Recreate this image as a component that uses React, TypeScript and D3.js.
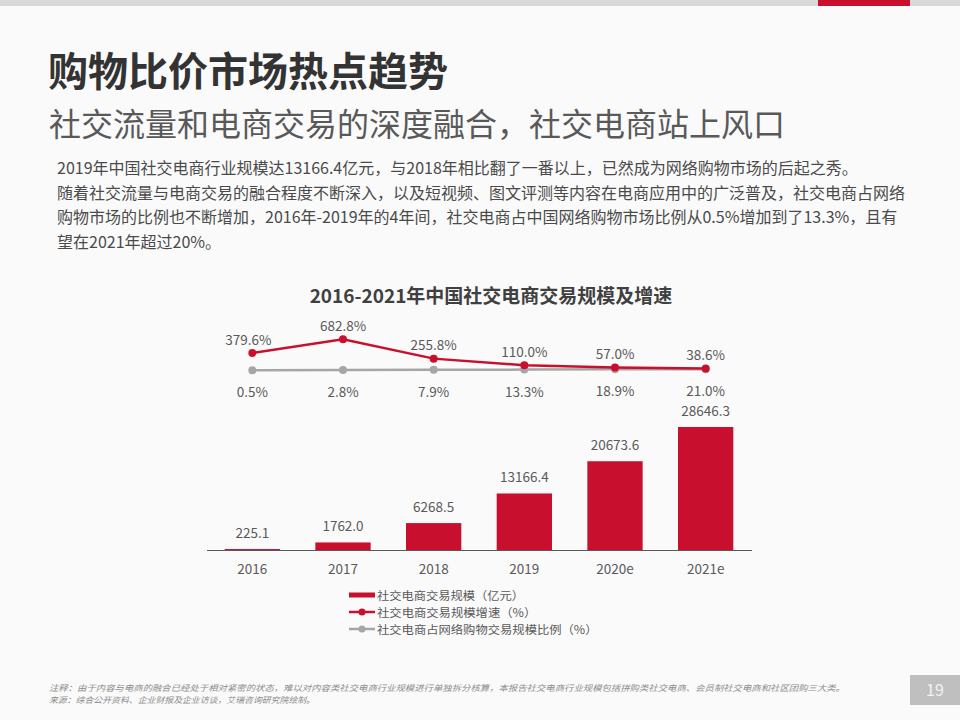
import React from "react";
import * as d3 from "d3";

const categories = ["2016", "2017", "2018", "2019", "2020e", "2021e"];
const scaleValues = [225.1, 1762.0, 6268.5, 13166.4, 20673.6, 28646.3];
const growthRates = [379.6, 682.8, 255.8, 110.0, 57.0, 38.6];
const shareRates = [0.5, 2.8, 7.9, 13.3, 18.9, 21.0];
const legendLabels = [
  "社交电商交易规模（亿元）",
  "社交电商交易规模增速（%）",
  "社交电商占网络购物交易规模比例（%）",
];
const bodyLines = [
  "2019年中国社交电商行业规模达13166.4亿元，与2018年相比翻了一番以上，已然成为网络购物市场的后起之秀。",
  "随着社交流量与电商交易的融合程度不断深入，以及短视频、图文评测等内容在电商应用中的广泛普及，社交电商占网络",
  "购物市场的比例也不断增加，2016年-2019年的4年间，社交电商占中国网络购物市场比例从0.5%增加到了13.3%，且有",
  "望在2021年超过20%。",
];
const footLines = [
  "注释：由于内容与电商的融合已经处于相对紧密的状态，难以对内容类社交电商行业规模进行单独拆分核算，本报告社交电商行业规模包括拼购类社交电商、会员制社交电商和社区团购三大类。",
  "来源：综合公开资料、企业财报及企业访谈，艾瑞咨询研究院绘制。",
];

const RED = "#c8102e";
const GRAY = "#a6a6a6";
const TXT = "#595959";
const FONT = "'Noto Sans CJK SC', 'Noto Sans', sans-serif";

export default function App() {
  const x = d3.scaleBand<string>().domain(categories).range([207, 751]).paddingInner(0.39).paddingOuter(0.195);
  const yBar = d3.scaleLinear().domain([0, 30000]).range([550, 421.2]);
  const yLine = d3.scaleLinear().domain([0, 800]).range([370.2, 334]);
  const cx = (c: string) => (x(c) as number) + x.bandwidth() / 2;
  const line = d3.line<number>().x((_, i) => cx(categories[i])).y((d) => yLine(d));
  const fmt1 = d3.format(".1f");

  return (
    <svg width={960} height={720} style={{ position: "absolute", left: 0, top: 0, display: "block" }} fontFamily={FONT}>
      <rect x={0} y={0} width={960} height={720} fill="#fafafa" />
      <rect x={0} y={0} width={960} height={6} fill="#d9d9d9" />
      <rect x={818} y={0} width={92} height={6} fill={RED} />

      <text x={48} y={86} fontSize={40} fontWeight={700} fill="#333333">购物比价市场热点趋势</text>
      <text x={49} y={136} fontSize={32} fill="#595959">社交流量和电商交易的深度融合，社交电商站上风口</text>

      {bodyLines.map((t, i) => (
        <text key={i} x={57} y={174 + i * 24.7} fontSize={16} fill="#4a4a4a">{t}</text>
      ))}

      <text x={491} y={303} fontSize={19} fontWeight={700} fill="#404040" textAnchor="middle">
        2016-2021年中国社交电商交易规模及增速
      </text>

      {/* bars */}
      {scaleValues.map((v, i) => (
        <g key={"b" + i}>
          <rect x={x(categories[i])} y={yBar(v)} width={x.bandwidth()} height={yBar(0) - yBar(v)} fill={RED} />
          <text x={cx(categories[i])} y={yBar(v) - 11.5} fontSize={13.5} fill={TXT} textAnchor="middle">{fmt1(v)}</text>
        </g>
      ))}
      <line x1={207} x2={752} y1={yBar(0) + 0.5} y2={yBar(0) + 0.5} stroke="#595959" strokeWidth={1} />
      {categories.map((c) => (
        <text key={"c" + c} x={cx(c)} y={574} fontSize={13.5} fill={TXT} textAnchor="middle">{c}</text>
      ))}

      {/* share line */}
      <path d={line(shareRates) || ""} fill="none" stroke={GRAY} strokeWidth={2.5} />
      {shareRates.map((v, i) => (
        <g key={"s" + i}>
          <circle cx={cx(categories[i])} cy={yLine(v)} r={4} fill={GRAY} />
          <text x={cx(categories[i])} y={yLine(v) + 27} fontSize={13.5} fill={TXT} textAnchor="middle">{fmt1(v)}%</text>
        </g>
      ))}

      {/* growth line */}
      <path d={line(growthRates) || ""} fill="none" stroke={RED} strokeWidth={2.5} />
      {growthRates.map((v, i) => (
        <g key={"g" + i}>
          <circle cx={cx(categories[i])} cy={yLine(v)} r={4} fill={RED} />
          <text x={cx(categories[i]) - (i === 0 ? 4 : 0)} y={yLine(v) - 8.5} fontSize={13.5} fill={TXT} textAnchor="middle">{fmt1(v)}%</text>
        </g>
      ))}

      {/* legend */}
      <rect x={349} y={592.5} width={26} height={5} fill={RED} />
      <line x1={349} x2={375} y1={612} y2={612} stroke={RED} strokeWidth={2.5} />
      <circle cx={362} cy={612} r={3.5} fill={RED} />
      <line x1={349} x2={375} y1={629} y2={629} stroke={GRAY} strokeWidth={2.5} />
      <circle cx={362} cy={629} r={3.5} fill={GRAY} />
      {legendLabels.map((t, i) => (
        <text key={"l" + i} x={377} y={599.5 + i * 17} fontSize={11.6} fill={TXT} textLength={t.length * 12.25} lengthAdjust="spacingAndGlyphs">{t}</text>
      ))}

      {/* footnote */}
      <text x={49} y={691} fontSize={8.2} fill="#8c8c8c" fontStyle="italic" textLength={796} lengthAdjust="spacingAndGlyphs">{footLines[0]}</text>
      <text x={49} y={702.5} fontSize={8.2} fill="#8c8c8c" fontStyle="italic" textLength={266} lengthAdjust="spacingAndGlyphs">{footLines[1]}</text>

      <rect x={910} y={675} width={50} height={30} fill="#bfbfbf" />
      <text x={935} y={696} fontSize={16} fill="#f2f2f2" textAnchor="middle">19</text>
    </svg>
  );
}
